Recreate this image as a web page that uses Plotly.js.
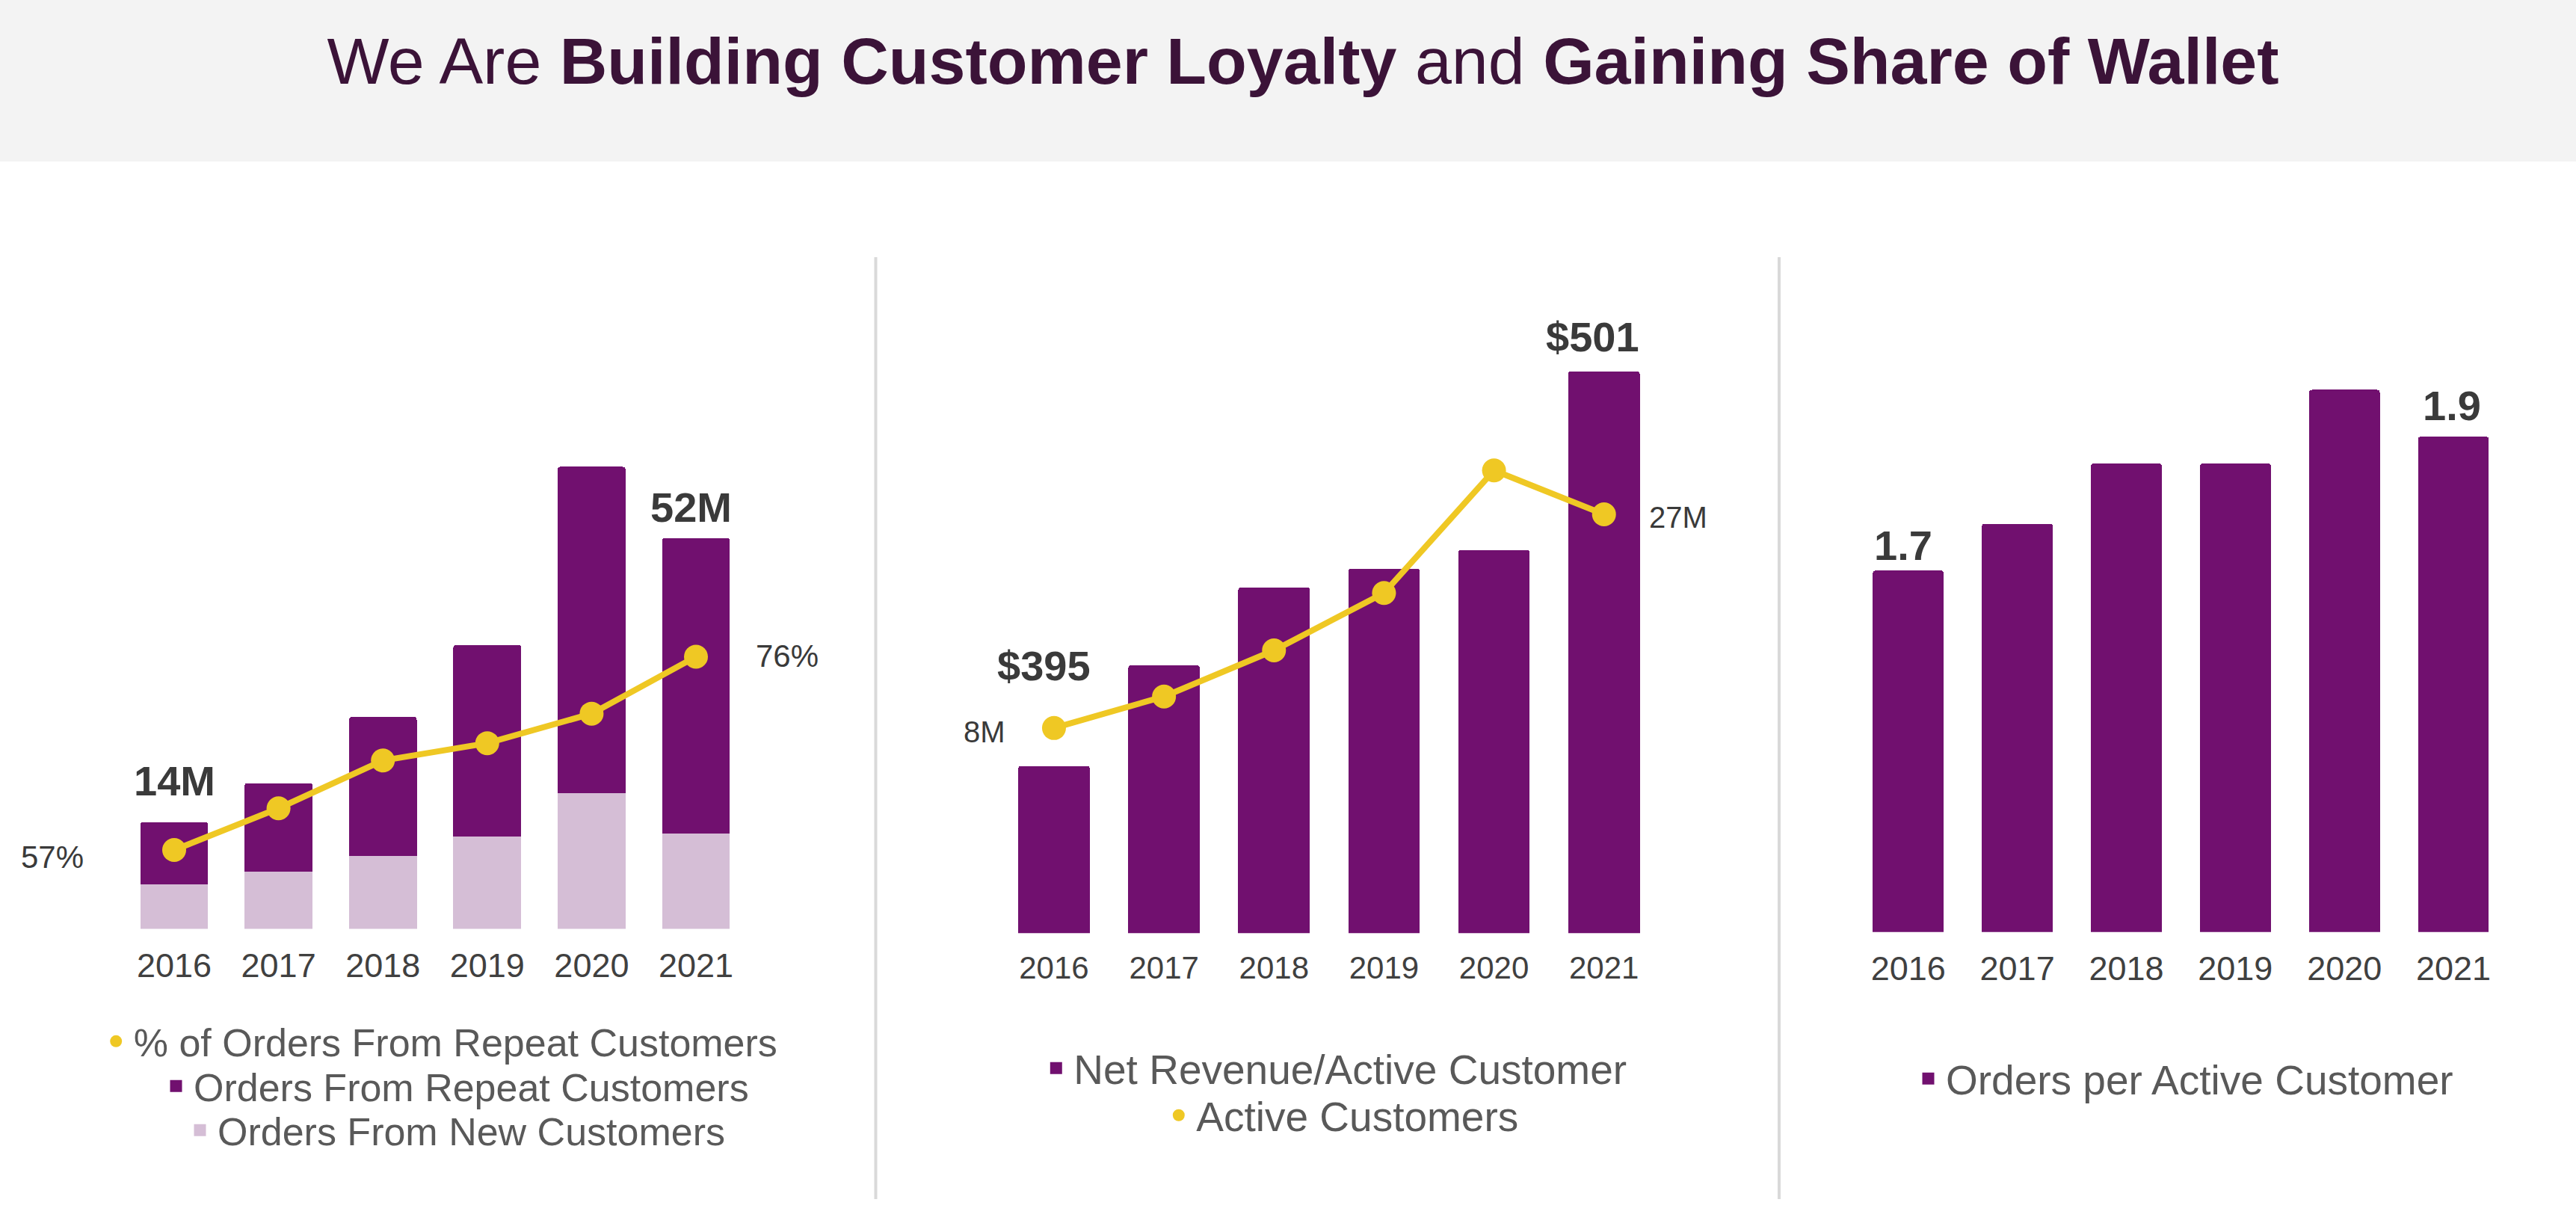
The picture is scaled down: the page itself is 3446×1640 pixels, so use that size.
<!DOCTYPE html>
<html>
<head>
<meta charset="utf-8">
<script src="https://cdn.plot.ly/plotly-3.0.1.min.js"></script>
<style>
  html, body { margin: 0; padding: 0; background: #ffffff; }
  #chart { width: 3446px; height: 1640px; }
</style>
</head>
<body>
<div id="chart"></div>
<script>
// ---------- data ----------
const years = ['2016', '2017', '2018', '2019', '2020', '2021'];

// Panel 1: orders (millions)
const ordersRepeat = [8.3, 11.8, 18.5, 25.5, 43.4, 39.3];
const ordersNew = [5.9, 7.6, 9.7, 12.3, 18.1, 12.7];
const pctRepeat = [57, 61.1, 65.8, 67.5, 70.4, 76];

// Panel 2: net revenue per active customer ($) and active customers (millions)
const revPerCustomer = [395, 422, 443, 448, 453, 501];
const activeCustomers = [8, 10.8, 14.9, 20.0, 30.9, 27];

// Panel 3: orders per active customer
const ordersPerCustomer = [1.7, 1.77, 1.86, 1.86, 1.97, 1.9];

// legend names
const names = {
  pct: '% of Orders From Repeat Customers',
  repeat: 'Orders From Repeat Customers',
  newc: 'Orders From New Customers',
  rev: 'Net Revenue/Active Customer',
  active: 'Active Customers',
  opc: 'Orders per Active Customer'
};

// ---------- styles ----------
const PURPLE = '#71106F';
const LILAC = '#D5BED6';
const GOLD = '#EFC824';
const FONT = '"Liberation Sans", Arial, Helvetica, sans-serif';
const LABEL = '#3a3a3a';
const W = 3446, H = 1640;
const px = v => v / W;
const py = v => 1 - v / H;

const totals = ordersRepeat.map((r, i) => r + ordersNew[i]);
const FIRST = 0, LAST = years.length - 1;

const traces = [
  // Panel 1
  { type: 'bar', x: years, y: ordersNew, xaxis: 'x', yaxis: 'y', marker: { color: LILAC }, showlegend: false, hoverinfo: 'skip' },
  { type: 'bar', x: years, y: ordersRepeat, xaxis: 'x', yaxis: 'y', marker: { color: PURPLE }, showlegend: false, hoverinfo: 'skip' },
  { type: 'scatter', mode: 'lines+markers', x: years, y: pctRepeat, xaxis: 'x', yaxis: 'y2',
    line: { color: GOLD, width: 8 }, marker: { color: GOLD, size: 32 }, cliponaxis: false, showlegend: false, hoverinfo: 'skip' },
  // Panel 2
  { type: 'bar', x: years, y: revPerCustomer, xaxis: 'x2', yaxis: 'y3', marker: { color: PURPLE }, showlegend: false, hoverinfo: 'skip' },
  { type: 'scatter', mode: 'lines+markers', x: years, y: activeCustomers, xaxis: 'x2', yaxis: 'y4',
    line: { color: GOLD, width: 8 }, marker: { color: GOLD, size: 32 }, cliponaxis: false, showlegend: false, hoverinfo: 'skip' },
  // Panel 3
  { type: 'bar', x: years, y: ordersPerCustomer, xaxis: 'x3', yaxis: 'y5', marker: { color: PURPLE }, showlegend: false, hoverinfo: 'skip' },

  // Legend entries
  { type: 'scatter', mode: 'markers', x: [null], y: [null], xaxis: 'x', yaxis: 'y2', name: names.pct,
    marker: { symbol: 'circle', color: GOLD, size: 16 }, legend: 'legend', showlegend: true, hoverinfo: 'skip' },
  { type: 'scatter', mode: 'markers', x: [null], y: [null], xaxis: 'x', yaxis: 'y', name: names.repeat,
    marker: { symbol: 'square', color: PURPLE, size: 16 }, legend: 'legend2', showlegend: true, hoverinfo: 'skip' },
  { type: 'scatter', mode: 'markers', x: [null], y: [null], xaxis: 'x', yaxis: 'y', name: names.newc,
    marker: { symbol: 'square', color: LILAC, size: 16 }, legend: 'legend3', showlegend: true, hoverinfo: 'skip' },
  { type: 'scatter', mode: 'markers', x: [null], y: [null], xaxis: 'x2', yaxis: 'y3', name: names.rev,
    marker: { symbol: 'square', color: PURPLE, size: 16 }, legend: 'legend4', showlegend: true, hoverinfo: 'skip' },
  { type: 'scatter', mode: 'markers', x: [null], y: [null], xaxis: 'x2', yaxis: 'y4', name: names.active,
    marker: { symbol: 'circle', color: GOLD, size: 16 }, legend: 'legend5', showlegend: true, hoverinfo: 'skip' },
  { type: 'scatter', mode: 'markers', x: [null], y: [null], xaxis: 'x3', yaxis: 'y5', name: names.opc,
    marker: { symbol: 'square', color: PURPLE, size: 16 }, legend: 'legend6', showlegend: true, hoverinfo: 'skip' }
];

function xAxis(domain, anchor, size) {
  return {
    domain: domain, anchor: anchor, type: 'category', categoryorder: 'array', categoryarray: years,
    range: [-0.5, years.length - 0.5], autorange: false,
    showgrid: false, zeroline: false, showline: false,
    ticks: '', tickfont: { family: FONT, size: size, color: '#404040' }, ticklabelstandoff: 18, fixedrange: true
  };
}
function yAxis(domain, range, extra) {
  return Object.assign({
    domain: domain, range: range, autorange: false, visible: false, showgrid: false, zeroline: false, fixedrange: true
  }, extra || {});
}
function legendAt(xp, yp, size) {
  return {
    x: px(xp), xanchor: 'left', y: py(yp), yanchor: 'middle',
    font: { family: FONT, size: size, color: '#595959' },
    bgcolor: 'rgba(0,0,0,0)', borderwidth: 0, itemwidth: 37, itemclick: false, itemdoubleclick: false
  };
}

const bold = (t) => '<b>' + t + '</b>';
const annBase = { showarrow: false, font: { family: FONT, size: 56, color: LABEL } };
const annotations = [
  Object.assign({}, annBase, { xref: 'x', yref: 'y', x: FIRST, y: totals[FIRST], text: bold(Math.round(totals[FIRST]) + 'M'), yanchor: 'middle', yshift: 55 }),
  Object.assign({}, annBase, { xref: 'x', yref: 'y', x: LAST, y: totals[LAST], text: bold(Math.round(totals[LAST]) + 'M'), yanchor: 'middle', yshift: 41, xshift: -7 }),
  Object.assign({}, annBase, { xref: 'x', yref: 'y2', x: FIRST, y: pctRepeat[FIRST], text: pctRepeat[FIRST] + '%', xanchor: 'right', yanchor: 'middle', xshift: -119, yshift: -9, font: { family: FONT, size: 42, color: LABEL } }),
  Object.assign({}, annBase, { xref: 'x', yref: 'y2', x: LAST, y: pctRepeat[LAST], text: pctRepeat[LAST] + '%', xanchor: 'left', yanchor: 'middle', xshift: 78, yshift: 1, font: { family: FONT, size: 42, color: LABEL } }),
  Object.assign({}, annBase, { xref: 'x2', yref: 'y3', x: FIRST, y: revPerCustomer[FIRST], text: bold('$' + revPerCustomer[FIRST]), yanchor: 'middle', yshift: 134, xshift: -13 }),
  Object.assign({}, annBase, { xref: 'x2', yref: 'y3', x: LAST, y: revPerCustomer[LAST], text: bold('$' + revPerCustomer[LAST]), yanchor: 'middle', yshift: 46, xshift: -15 }),
  Object.assign({}, annBase, { xref: 'x2', yref: 'y4', x: FIRST, y: activeCustomers[FIRST], text: activeCustomers[FIRST] + 'M', xanchor: 'right', yanchor: 'middle', xshift: -63, yshift: -5, font: { family: FONT, size: 40, color: LABEL } }),
  Object.assign({}, annBase, { xref: 'x2', yref: 'y4', x: LAST, y: activeCustomers[LAST], text: activeCustomers[LAST] + 'M', xanchor: 'left', yanchor: 'middle', xshift: 58, yshift: -4, font: { family: FONT, size: 40, color: LABEL } }),
  Object.assign({}, annBase, { xref: 'x3', yref: 'y5', x: FIRST, y: ordersPerCustomer[FIRST], text: bold(ordersPerCustomer[FIRST].toFixed(1)), yanchor: 'middle', yshift: 34, xshift: -7 }),
  Object.assign({}, annBase, { xref: 'x3', yref: 'y5', x: LAST, y: ordersPerCustomer[LAST], text: bold(ordersPerCustomer[LAST].toFixed(1)), yanchor: 'middle', yshift: 42, xshift: -2 })
];

const shapes = [
  { type: 'rect', xref: 'paper', yref: 'paper', x0: 0, x1: 1, y0: py(216), y1: 1, fillcolor: '#f3f3f3', line: { width: 0 }, layer: 'below' },
  { type: 'line', xref: 'paper', yref: 'paper', x0: px(1171.5), x1: px(1171.5), y0: py(344), y1: py(1604), line: { color: '#d9d9d9', width: 4 } },
  { type: 'line', xref: 'paper', yref: 'paper', x0: px(2380), x1: px(2380), y0: py(344), y1: py(1604), line: { color: '#d9d9d9', width: 4 } }
];

const layout = {
  width: W, height: H,
  margin: { l: 0, r: 0, t: 0, b: 0, pad: 0 },
  paper_bgcolor: '#ffffff', plot_bgcolor: 'rgba(0,0,0,0)',
  font: { family: FONT },
  hovermode: false,
  barmode: 'stack', bargap: 0.35, barcornerradius: 4,
  title: {
    text: 'We Are <b>Building Customer Loyalty</b> and <b>Gaining Share of Wallet</b>',
    x: px(1743), xanchor: 'center', y: py(81), yanchor: 'middle',
    font: { family: FONT, size: 88, color: '#3b1338' }
  },
  xaxis: xAxis([px(163.2), px(1000.8)], 'y', 45),
  yaxis: yAxis([py(1242.5), py(600)], [0, 63.93], { anchor: 'x' }),
  yaxis2: yAxis([py(1242.5), py(600)], [49.25, 96.46], { overlaying: 'y', anchor: 'x' }),
  xaxis2: xAxis([px(1336.4), px(2219.3)], 'y3', 42),
  yaxis3: yAxis([py(1248.2), py(430)], [350.1, 514.4], { anchor: 'x2' }),
  yaxis4: yAxis([py(1248.2), py(430)], [-10.23, 44.14], { overlaying: 'y3', anchor: 'x2' }),
  xaxis3: xAxis([px(2479.8), px(3355)], 'y5', 45),
  yaxis5: yAxis([py(1246.8), py(500)], [1.160, 1.994], { anchor: 'x3' }),
  legend: legendAt(131.7, 1393, 52),
  legend2: legendAt(212, 1453, 52),
  legend3: legendAt(244, 1512, 52),
  legend4: legendAt(1389.3, 1429, 55),
  legend5: legendAt(1553.3, 1492, 55),
  legend6: legendAt(2556, 1443, 55),
  annotations: annotations,
  shapes: shapes
};

Plotly.newPlot('chart', traces, layout, { staticPlot: true, displayModeBar: false });
</script>
</body>
</html>
